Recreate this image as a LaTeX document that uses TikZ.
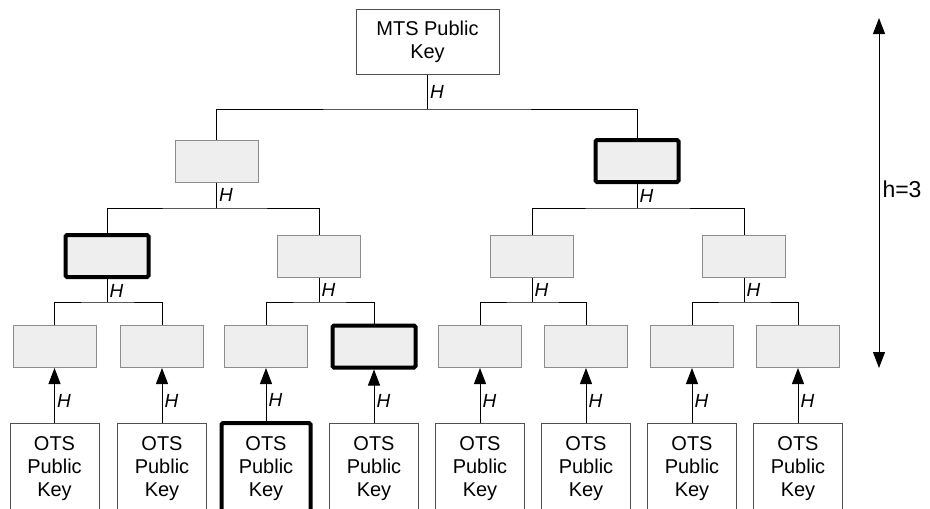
\documentclass[tikz,border=0pt]{standalone}
\usepackage{fontspec}
\setmainfont{Liberation Sans}
\usetikzlibrary{arrows.meta}
\definecolor{nodefill}{HTML}{EEEEEE}
\definecolor{nodeline}{HTML}{8C8C8C}
\definecolor{keyline}{HTML}{505050}
\begin{document}
\begin{tikzpicture}[x=1pt,y=-1pt,line cap=butt,line join=miter,
	>={Triangle[length=16pt,width=12pt]},font=\fontsize{20}{23}\selectfont]
	\tikzset{keybox/.style={draw=keyline,line width=1pt,fill=white,align=center,inner sep=0pt},
		hashbox/.style={draw=nodeline,line width=1pt,fill=nodefill,minimum width=83pt,minimum height=42pt,inner sep=0pt},
		sel/.style={draw=black,line width=4pt,rounded corners=1.5pt},
		plain/.style={},
		hlab/.style={right,inner sep=2pt,font=\fontsize{19}{21}\selectfont\itshape},
		tree/.style={line width=1pt}}
	\useasboundingbox (0,0) rectangle (930,509);
	\clip (0,0) rectangle (930,509);
	% root
	\node[keybox,minimum width=143pt,minimum height=65pt] (root) at (427.5,41.5) {MTS Public\\Key};
	\node[hashbox] (a) at (216.5,161) {};
	\node[hashbox,sel] (b) at (637,161) {};
	\coordinate (j0) at (427.5,109);
	\draw[tree] (root.south) -- (j0) node[midway,hlab]{H};
	\draw[tree] (a.north) |- (j0) -| (b.north);
	% level 2
	\foreach \n/\x/\s in {1/107/sel,2/319/plain,3/532/plain,4/744/plain}{
		\node[hashbox,\s] (m\n) at (\x,256) {};}
	\coordinate (ja) at (216.5,208);
	\coordinate (jb) at (637,208);
	\draw[tree] (a.south) -- (ja) node[midway,hlab]{H};
	\draw[tree] (b.south) -- (jb) node[midway,hlab]{H};
	\draw[tree] (m1.north) |- (ja) -| (m2.north);
	\draw[tree] (m3.north) |- (jb) -| (m4.north);
	% level 3 and OTS keys
	\foreach \n/\x/\s/\t in {1/54.5/plain/plain,2/162/plain/plain,3/266/plain/sel,4/374/sel/plain,
		5/480/plain/plain,6/586/plain/plain,7/692/plain/plain,8/798/plain/plain}{
		\node[hashbox,\s] (c\n) at (\x,346.5) {};
		\node[keybox,minimum width=89pt,minimum height=92pt,\t] (o\n) at (\x,469) {OTS\\Public\\Key};
		\draw[->,line width=1pt] (o\n.north) -- (c\n.south) node[pos=.4,hlab]{H};}
	\foreach \p/\l/\r in {1/1/2,2/3/4,3/5/6,4/7/8}{
		\coordinate (k\p) at (m\p.south |- 0,302);
		\draw[tree] (m\p.south) -- (k\p) node[midway,hlab]{H};
		\draw[tree] (c\l.north) |- (k\p) -| (c\r.north);}
	% height
	\coordinate (htop) at (879,18);
	\coordinate (hbot) at (879,368);
	\draw[<->,line width=1pt] (htop) -- (hbot) node[pos=.49,right,inner sep=3pt,font=\fontsize{23}{25}\selectfont] (hval) {h=3};
\end{tikzpicture}
\end{document}
